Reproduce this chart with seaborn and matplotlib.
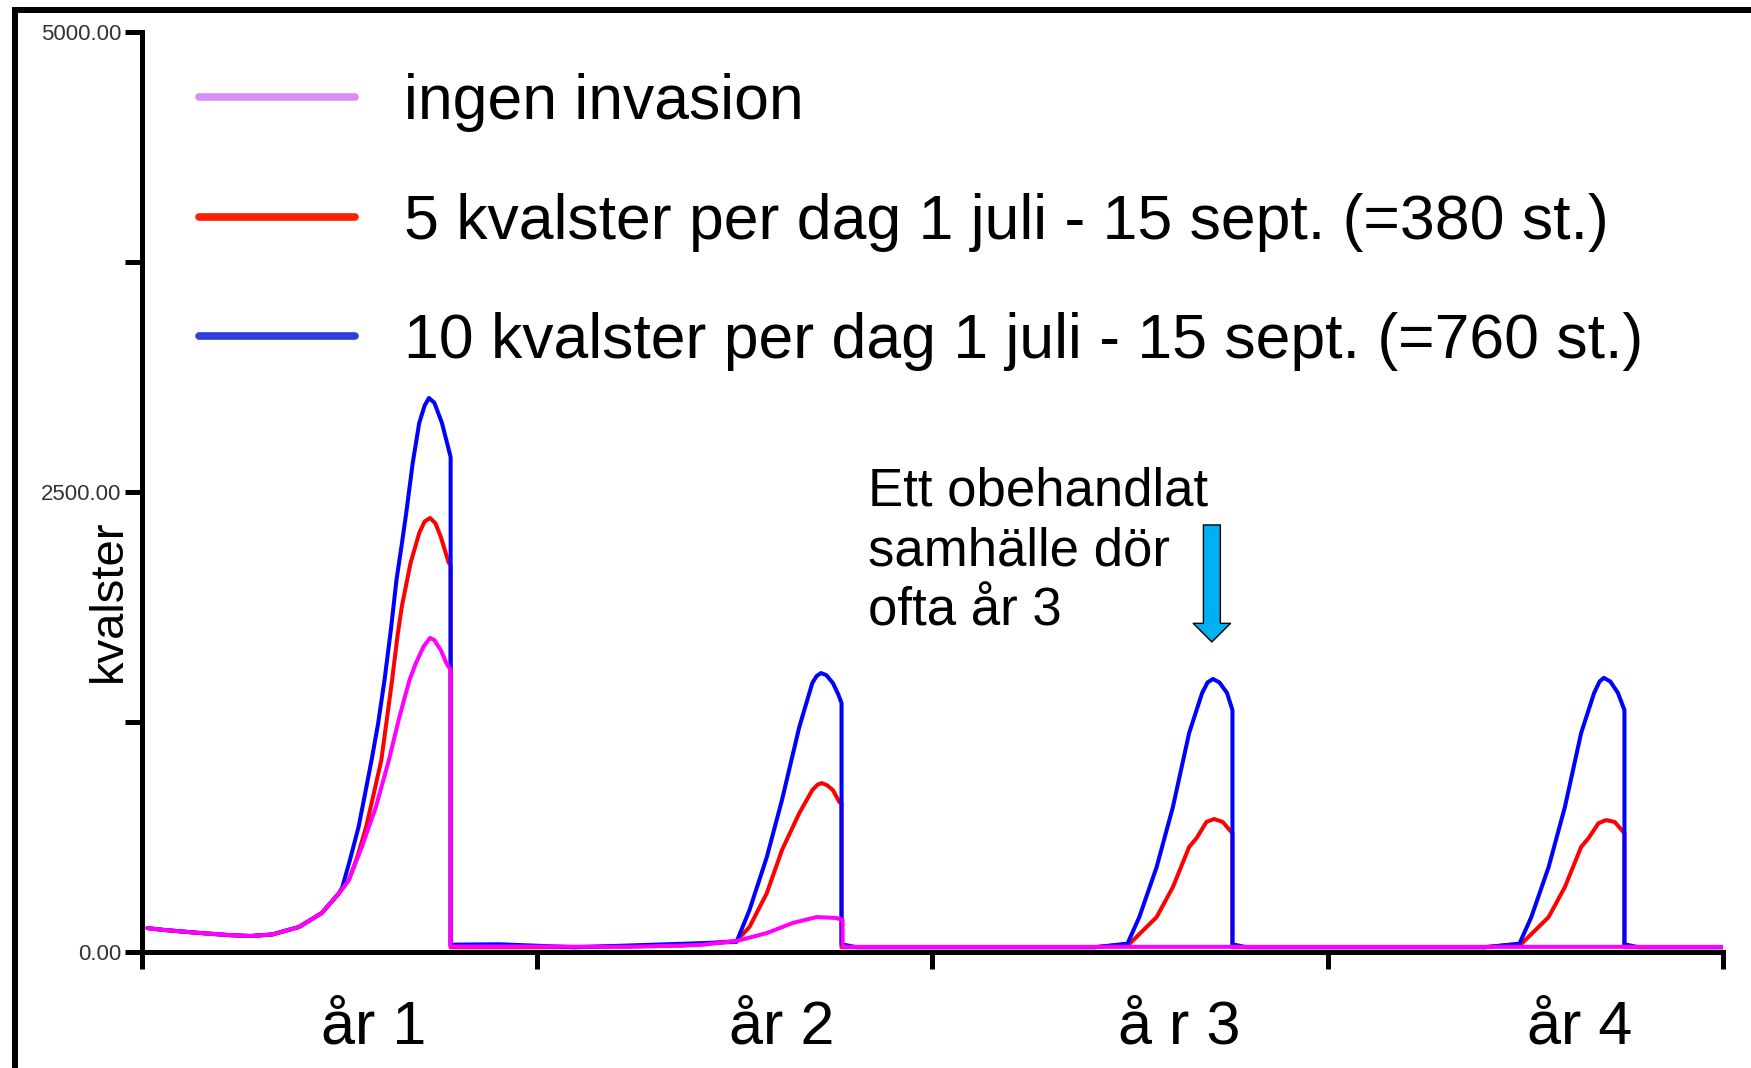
import matplotlib
matplotlib.use("Agg")
import matplotlib.pyplot as plt
import seaborn as sns
from matplotlib.lines import Line2D
from matplotlib.patches import FancyArrowPatch

sns.set_style("ticks")
plt.rcParams['font.family'] = ['Liberation Sans', 'DejaVu Sans']
plt.rcParams['text.color'] = 'black'
plt.rcParams['axes.labelcolor'] = 'black'
plt.rcParams['xtick.color'] = 'black'
plt.rcParams['ytick.color'] = 'black'

# dag i simuleringen (365 per år) och antal kvalster
ingen_dag = [5, 20, 50, 80, 100, 120, 145, 166, 182, 191, 203, 216, 228, 237, 247, 253, 260, 266, 270, 276, 281, 285, 285,
             350, 450, 515, 549, 577, 601, 623, 641, 647, 647, 800, 1000, 1200, 1460]
ingen_kv = [130, 120, 105, 92, 87, 95, 136, 212, 320, 391, 571, 788, 1043, 1261, 1478, 1571, 1660, 1707, 1695, 1640, 1571, 1533, 30,
            30, 28, 38, 60, 103, 158, 190, 185, 174, 28, 28, 28, 28, 28]

fem_dag = [5, 20, 50, 80, 100, 120, 145, 166, 182, 191, 199, 207, 214, 221, 226, 231, 236, 240, 248, 256, 261, 266, 271, 276, 283, 285, 285,
           400, 500, 549, 561, 577, 591, 607, 619, 624, 628, 633, 638, 644, 646, 646,
           880, 912, 937, 952, 967, 974, 983, 990, 998, 1006, 1007, 1007,
           1240, 1274, 1299, 1314, 1329, 1336, 1345, 1352, 1360, 1368, 1369, 1369, 1460]
fem_kv = [130, 120, 105, 92, 87, 95, 136, 212, 320, 391, 520, 680, 860, 1043, 1260, 1480, 1720, 1880, 2114, 2277, 2340, 2359, 2330, 2255, 2120, 2100, 26,
          26, 36, 60, 136, 320, 554, 755, 880, 910, 918, 905, 880, 815, 810, 26,
          26, 45, 190, 353, 571, 620, 707, 723, 707, 652, 650, 26,
          26, 45, 190, 353, 571, 620, 700, 717, 707, 652, 650, 26, 26]

tio_dag = [5, 20, 50, 80, 100, 120, 145, 166, 182, 185, 192, 200, 206, 212, 218, 224, 230, 235, 240, 244, 250, 256, 261, 265, 270, 277, 282, 285, 285,
           330, 400, 500, 549, 561, 577, 591, 607, 619, 623, 627, 632, 638, 643, 646, 646, 660,
           880, 910, 921, 937, 952, 967, 979, 984, 989, 995, 1002, 1007, 1007, 1020,
           1240, 1272, 1283, 1299, 1314, 1329, 1341, 1346, 1350, 1356, 1363, 1369, 1369, 1382, 1460]
tio_kv = [130, 120, 105, 92, 87, 95, 136, 212, 320, 353, 500, 680, 860, 1043, 1240, 1480, 1760, 2022, 2220, 2386, 2658, 2875, 2970, 3011, 2985, 2875, 2760, 2690, 40,
          42, 26, 45, 55, 228, 516, 826, 1223, 1462, 1500, 1516, 1505, 1462, 1400, 1353, 42, 26,
          26, 45, 190, 462, 788, 1190, 1408, 1465, 1484, 1465, 1408, 1315, 42, 26,
          26, 45, 190, 462, 788, 1190, 1408, 1470, 1490, 1470, 1408, 1315, 42, 26, 26]

serie_namn = ["ingen invasion",
              "5 kvalster per dag 1 juli - 15 sept. (=380 st.)",
              "10 kvalster per dag 1 juli - 15 sept. (=760 st.)"]
ar_etiketter = ["år 1", "år 2", "å r 3", "år 4"]
ar_pos = [214, 591, 958, 1328]
ar_grans = [0, 365, 730, 1095, 1460]
y_ticks = [0, 1250, 2500, 3750, 5000]
y_etiketter = ["0.00", "", "2500.00", "", "5000.00"]

fig = plt.figure(figsize=(17.51, 10.68), dpi=100)
ax = fig.add_axes([0.0811, 0.1086, 0.9029, 0.8614])

# rött under blått, magenta överst
sns.lineplot(x=fem_dag, y=fem_kv, sort=False, estimator=None, color="#FF0000", linewidth=2.9, ax=ax)
sns.lineplot(x=tio_dag, y=tio_kv, sort=False, estimator=None, color="#0000FF", linewidth=2.9, ax=ax)
sns.lineplot(x=ingen_dag, y=ingen_kv, sort=False, estimator=None, color="#FF00FF", linewidth=2.9, ax=ax)

ax.set_xlim(0, 1460)
ax.set_ylim(0, 5000)
sns.despine(ax=ax)
for s in ["left", "bottom"]:
    ax.spines[s].set_linewidth(3.6)
    ax.spines[s].set_color("black")

ax.set_yticks(y_ticks, y_etiketter)
ax.set_xticks(ar_grans, [""] * len(ar_grans))
ax.set_xticks(ar_pos, ar_etiketter, minor=True)
ax.tick_params(axis="both", which="major", length=12, width=3.6, color="black")
ax.tick_params(axis="y", labelsize=16, labelcolor="#333333", pad=3)
ax.tick_params(axis="x", which="minor", length=0, labelsize=44, pad=34, labelcolor="black")

ax.set_xlabel("")
ax.set_ylabel("kvalster", fontsize=34, va="center")
ax.yaxis.set_label_coords(-0.0209, 0.3815)

# legend med egna färger
leg_farger = ["#D98CF5", "#FF2000", "#3040E0"]
handles = [Line2D([], [], color=c, lw=5.5) for c in leg_farger]
ax.legend(handles, serie_namn, loc="upper left", bbox_to_anchor=(199 / 1751, 1 - 73 / 1068),
          bbox_transform=fig.transFigure, frameon=False, fontsize=45, handlelength=2.5,
          handletextpad=0.78, labelspacing=0.97, borderpad=0, borderaxespad=0)

ax.text(670, 2640, "Ett obehandlat\nsamhälle dör\nofta år 3", fontsize=38, ha="left", va="top", linespacing=1.26)
pil = FancyArrowPatch(posA=(988, 2321), posB=(988, 1685),
                      arrowstyle="simple,head_length=1.1,head_width=2.2,tail_width=1.0",
                      mutation_scale=12.2, facecolor="#00B0F0", edgecolor="black", lw=1,
                      shrinkA=0, shrinkB=0)
ax.add_patch(pil)

# yttre ram (vänster och överkant)
fx = 15 / 1751
fy = 1 - 10 / 1068
fig.add_artist(Line2D([fx, fx], [-0.05, fy], transform=fig.transFigure, color="black", lw=4.3,
                      solid_capstyle="projecting"))
fig.add_artist(Line2D([fx, 1.05], [fy, fy], transform=fig.transFigure, color="black", lw=4.3,
                      solid_capstyle="projecting"))

fig.savefig("out.png", dpi=100)
